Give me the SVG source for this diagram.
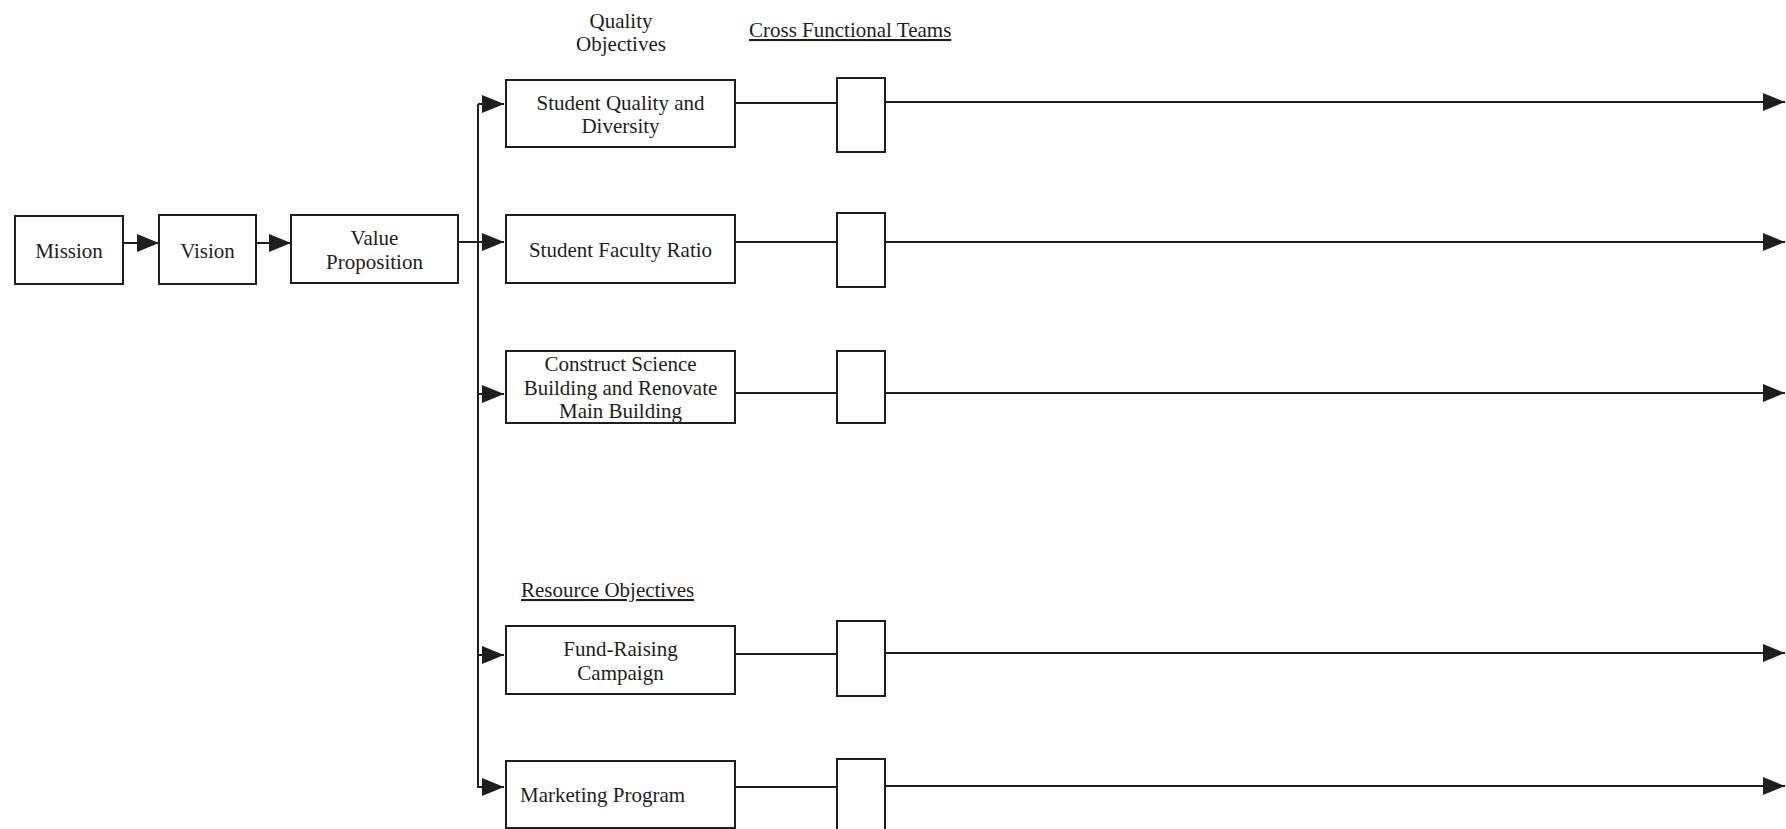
<svg xmlns="http://www.w3.org/2000/svg" width="1786" height="829" viewBox="0 0 1786 829">
<style>
.box{fill:#fff;stroke:#1e1e1e;stroke-width:2}
.ln{fill:none;stroke:#1e1e1e;stroke-width:2}
text{font-family:"Liberation Serif","Times New Roman",serif;font-size:21px;fill:#1e1e1e}
.c{text-anchor:middle}
.u{text-decoration:underline}
</style>
<defs>
<marker id="arr" viewBox="0 0 22 18" refX="22" refY="9" markerWidth="22" markerHeight="18" markerUnits="userSpaceOnUse" orient="auto">
<path d="M0,0 L22,9 L0,18 z" fill="#1e1e1e"/>
</marker>
</defs>
<rect width="1786" height="829" fill="#fff"/>
<g id="headers">
<text class="c" x="621" y="28">Quality</text>
<text class="c" x="621" y="51">Objectives</text>
<text class="u" x="749" y="37">Cross Functional Teams</text>
<text class="u" x="521" y="597">Resource Objectives</text>
</g>
<g id="connectors">
<path class="ln" d="M123,243 H159" marker-end="url(#arr)"/>
<path class="ln" d="M256,243 H291" marker-end="url(#arr)"/>
<path class="ln" d="M458,242 H478"/>
<path class="ln" d="M478,104 V788"/>
<path class="ln" d="M478,104 H504" marker-end="url(#arr)"/>
<path class="ln" d="M478,242 H504" marker-end="url(#arr)"/>
<path class="ln" d="M478,394 H504" marker-end="url(#arr)"/>
<path class="ln" d="M478,655 H504" marker-end="url(#arr)"/>
<path class="ln" d="M478,787 H504" marker-end="url(#arr)"/>
<path class="ln" d="M735,103 H837 M735,242 H837 M735,393 H837 M735,654 H837 M735,787 H837"/>
<path class="ln" d="M885,102 H1785" marker-end="url(#arr)"/>
<path class="ln" d="M885,242 H1785" marker-end="url(#arr)"/>
<path class="ln" d="M885,393 H1785" marker-end="url(#arr)"/>
<path class="ln" d="M885,653 H1785" marker-end="url(#arr)"/>
<path class="ln" d="M885,786 H1785" marker-end="url(#arr)"/>
</g>
<g id="mission"><rect class="box" x="15" y="216" width="108" height="68"/><text class="c" x="69" y="258">Mission</text></g>
<g id="vision"><rect class="box" x="159" y="215" width="97" height="69"/><text class="c" x="207.5" y="258">Vision</text></g>
<g id="value-proposition"><rect class="box" x="291" y="215" width="167" height="68"/><text class="c" x="374.5" y="245">Value</text><text class="c" x="374.5" y="269">Proposition</text></g>
<g id="student-quality"><rect class="box" x="506" y="80" width="229" height="67"/><text class="c" x="620.5" y="110">Student Quality and</text><text class="c" x="620.5" y="133">Diversity</text></g>
<g id="student-faculty"><rect class="box" x="506" y="215" width="229" height="68"/><text class="c" x="620.5" y="257">Student Faculty Ratio</text></g>
<g id="construct"><rect class="box" x="506" y="351" width="229" height="72"/><text class="c" x="620.5" y="371">Construct Science</text><text class="c" x="620.5" y="395">Building and Renovate</text><text class="c" x="620.5" y="418">Main Building</text></g>
<g id="fund-raising"><rect class="box" x="506" y="626" width="229" height="68"/><text class="c" x="620.5" y="656">Fund-Raising</text><text class="c" x="620.5" y="680">Campaign</text></g>
<g id="marketing"><rect class="box" x="506" y="761" width="229" height="67"/><text x="520" y="802">Marketing Program</text></g>
<g id="team-1"><rect class="box" x="837" y="78" width="48" height="74"/></g>
<g id="team-2"><rect class="box" x="837" y="213" width="48" height="74"/></g>
<g id="team-3"><rect class="box" x="837" y="351" width="48" height="72"/></g>
<g id="team-4"><rect class="box" x="837" y="621" width="48" height="75"/></g>
<g id="team-5"><rect class="box" x="837" y="759" width="48" height="75"/></g>
</svg>
